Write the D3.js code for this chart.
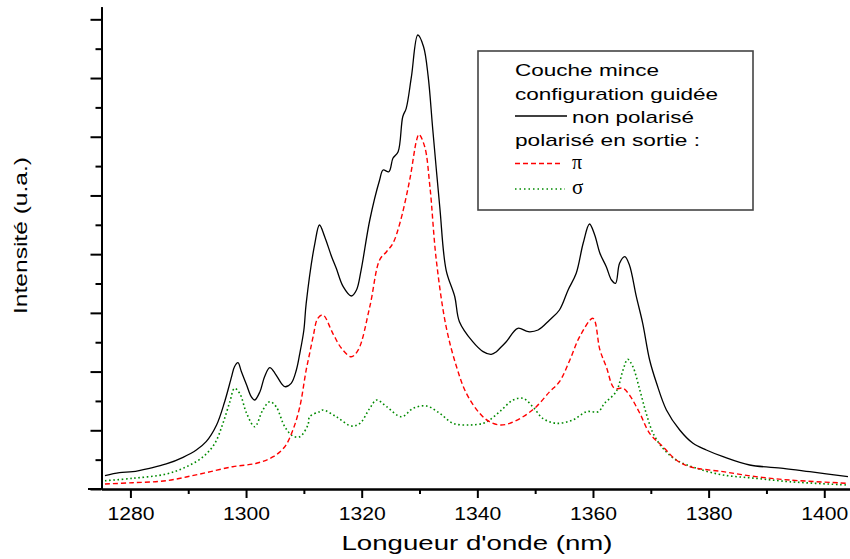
<!DOCTYPE html>
<html>
<head>
<meta charset="utf-8">
<script src="https://cdn.jsdelivr.net/npm/d3@7"></script>
<style>
  html, body { margin: 0; padding: 0; background: #fff; }
  svg { display: block; font-family: "Liberation Sans", Arial, sans-serif; }
</style>
</head>
<body>
<svg id="chart" width="850" height="559"></svg>
<script>
// ---- Data ----
const xTicks = [1280, 1300, 1320, 1340, 1360, 1380, 1400];
const xMinorTicks = [1290, 1310, 1330, 1350, 1370, 1390];

// non polarisé (solid black)
const blackNm = [1275.6, 1278.1, 1280.4, 1283.3, 1286.2, 1289.1, 1291.4, 1293.1, 1294.9, 1296.3, 1297.5, 1298.0, 1298.6, 1299.2, 1300.1, 1300.9, 1301.5, 1302.4, 1303.2, 1304.1, 1305.0, 1306.1, 1306.7, 1307.8, 1308.7, 1309.3, 1310.0, 1310.4, 1311.9, 1312.7, 1313.6, 1314.8, 1315.6, 1316.8, 1318.2, 1319.1, 1319.9, 1321.4, 1323.1, 1323.7, 1324.7, 1325.4, 1326.3, 1327.1, 1327.7, 1328.6, 1329.7, 1330.7, 1331.5, 1332.3, 1333.5, 1334.6, 1336.1, 1336.9, 1339.2, 1341.0, 1342.4, 1343.3, 1343.9, 1345.0, 1347.0, 1348.8, 1350.5, 1352.5, 1354.2, 1355.7, 1357.1, 1358.3, 1359.4, 1360.3, 1361.2, 1362.3, 1363.2, 1363.9, 1364.6, 1365.5, 1366.3, 1367.5, 1368.6, 1369.8, 1371.0, 1372.7, 1375.0, 1377.3, 1379.6, 1382.5, 1387.1, 1392.9, 1397.5, 1404.1];
const blackI = [0.227, 0.278, 0.295, 0.353, 0.426, 0.540, 0.664, 0.806, 1.090, 1.487, 1.913, 2.083, 2.151, 1.998, 1.771, 1.572, 1.516, 1.657, 1.913, 2.066, 1.971, 1.800, 1.742, 1.800, 2.027, 2.311, 2.708, 3.163, 4.185, 4.497, 4.297, 3.957, 3.759, 3.446, 3.287, 3.390, 3.730, 4.582, 5.263, 5.433, 5.404, 5.633, 5.745, 6.341, 6.484, 7.023, 7.733, 7.534, 7.023, 6.115, 4.808, 3.730, 3.275, 2.850, 2.509, 2.339, 2.294, 2.339, 2.397, 2.509, 2.737, 2.679, 2.708, 2.879, 3.049, 3.390, 3.674, 4.185, 4.514, 4.326, 4.015, 3.786, 3.560, 3.504, 3.844, 3.957, 3.815, 3.275, 2.822, 2.197, 1.800, 1.346, 1.005, 0.778, 0.664, 0.550, 0.409, 0.353, 0.295, 0.210];

// polarisé π (dashed red)
const redNm = [1275.6, 1280.4, 1286.2, 1292.0, 1297.7, 1301.8, 1304.7, 1306.7, 1308.1, 1309.3, 1310.4, 1311.0, 1311.6, 1312.4, 1313.3, 1315.0, 1316.5, 1318.2, 1319.4, 1321.4, 1323.1, 1324.3, 1325.4, 1326.6, 1328.3, 1329.5, 1329.9, 1330.9, 1331.8, 1332.9, 1334.6, 1336.4, 1338.1, 1340.4, 1342.1, 1343.9, 1345.6, 1347.9, 1350.2, 1352.5, 1354.2, 1356.0, 1357.7, 1360.0, 1361.2, 1362.3, 1363.7, 1365.2, 1366.3, 1368.1, 1369.8, 1372.1, 1374.4, 1376.7, 1382.5, 1388.2, 1394.0, 1404.1];
const redI = [0.085, 0.107, 0.141, 0.255, 0.380, 0.438, 0.550, 0.720, 1.005, 1.402, 2.027, 2.311, 2.594, 2.907, 2.964, 2.652, 2.397, 2.253, 2.368, 3.105, 3.901, 4.042, 4.185, 4.526, 5.263, 5.944, 6.042, 5.830, 5.149, 3.901, 2.764, 2.083, 1.630, 1.289, 1.146, 1.090, 1.119, 1.231, 1.402, 1.657, 1.828, 2.197, 2.594, 2.907, 2.368, 2.083, 1.715, 1.715, 1.601, 1.289, 0.949, 0.720, 0.494, 0.380, 0.295, 0.210, 0.153, 0.097];

// polarisé σ (dotted green)
const greenNm = [1275.6, 1280.4, 1286.2, 1289.7, 1292.6, 1294.6, 1296.0, 1297.2, 1298.0, 1298.9, 1300.1, 1301.5, 1302.9, 1304.1, 1305.2, 1306.7, 1308.1, 1309.3, 1310.7, 1311.0, 1312.7, 1313.3, 1315.6, 1318.2, 1319.7, 1321.4, 1322.6, 1324.3, 1326.9, 1328.9, 1331.2, 1333.5, 1335.8, 1338.7, 1341.0, 1342.1, 1343.9, 1346.2, 1347.9, 1349.6, 1351.3, 1353.7, 1356.5, 1358.9, 1360.9, 1362.0, 1364.0, 1365.2, 1366.0, 1366.9, 1368.1, 1369.2, 1370.4, 1372.1, 1374.4, 1377.9, 1382.5, 1388.2, 1394.0, 1404.1];
const greenI = [0.141, 0.182, 0.255, 0.380, 0.550, 0.778, 1.119, 1.487, 1.715, 1.630, 1.289, 1.061, 1.346, 1.487, 1.402, 1.061, 0.903, 0.891, 1.090, 1.231, 1.317, 1.346, 1.231, 1.073, 1.119, 1.375, 1.516, 1.402, 1.231, 1.375, 1.414, 1.289, 1.119, 1.090, 1.119, 1.175, 1.320, 1.516, 1.545, 1.402, 1.204, 1.119, 1.175, 1.317, 1.317, 1.460, 1.657, 2.027, 2.209, 2.083, 1.686, 1.289, 0.949, 0.693, 0.494, 0.353, 0.238, 0.182, 0.124, 0.068];

const yMajorTicks = [0, 1, 2, 3, 4, 5, 6, 7, 8];
const yMinorTicks = [0.5, 1.5, 2.5, 3.5, 4.5, 5.5, 6.5, 7.5];

const legendTitle = ["Couche mince", "configuration guidée"];
const legendItems = ["non polarisé", "polarisé en sortie :", "π", "σ"];

// ---- Layout ----
const svg = d3.select("#chart");
const x = d3.scaleLinear().domain([1275, 1404.45]).range([101.5, 850]);
const y = d3.scaleLinear().domain([0, 8.215]).range([489, 6.7]);

// curves
const line = d3.line().curve(d3.curveCatmullRom.alpha(0.5)).x(d => x(d[0])).y(d => y(d[1]));
const zip = (a, b) => a.map((v, i) => [v, b[i]]);

svg.append("path").datum(zip(greenNm, greenI))
  .attr("d", line).attr("fill", "none")
  .attr("stroke", "#008a00").attr("stroke-width", 1.6)
  .attr("stroke-dasharray", "1.6,2.6");
svg.append("path").datum(zip(redNm, redI))
  .attr("d", line).attr("fill", "none")
  .attr("stroke", "#ff0000").attr("stroke-width", 1.4)
  .attr("stroke-dasharray", "5,3");
svg.append("path").datum(zip(blackNm, blackI))
  .attr("d", line).attr("fill", "none")
  .attr("stroke", "#000").attr("stroke-width", 1.3);

// x axis
const gx = svg.append("g").attr("transform", `translate(0,489)`);
gx.call(d3.axisBottom(x).tickValues(xTicks).tickFormat(d3.format("d")).tickSize(9).tickSizeOuter(0));
gx.append("g").call(d3.axisBottom(x).tickValues(xMinorTicks).tickFormat("").tickSize(5).tickSizeOuter(0));
gx.selectAll(".domain").attr("stroke", "#000").attr("stroke-width", 2);
gx.selectAll(".tick line").attr("stroke", "#000").attr("stroke-width", 2);
gx.selectAll(".tick text")
  .attr("fill", "#000")
  .attr("font-size", 18)
  .attr("font-family", "Liberation Sans, Arial, sans-serif")
  .attr("y", 31).attr("dy", 0)
  .attr("textLength", 47).attr("lengthAdjust", "spacingAndGlyphs");
gx.append("line").attr("x1", 88).attr("x2", 101.5).attr("y1", 0).attr("y2", 0)
  .attr("stroke", "#000").attr("stroke-width", 2);

// y axis
const gy = svg.append("g").attr("transform", `translate(101.5,0)`);
gy.call(d3.axisLeft(y).tickValues(yMajorTicks).tickFormat("").tickSize(11).tickSizeOuter(0));
gy.append("g").call(d3.axisLeft(y).tickValues(yMinorTicks).tickFormat("").tickSize(6).tickSizeOuter(0));
gy.selectAll(".domain").attr("stroke", "#000").attr("stroke-width", 2);
gy.selectAll(".tick line").attr("stroke", "#000").attr("stroke-width", 2);

// axis titles
svg.append("text")
  .attr("x", 477).attr("y", 550)
  .attr("text-anchor", "middle").attr("font-size", 21).attr("fill", "#000")
  .attr("textLength", 271).attr("lengthAdjust", "spacingAndGlyphs")
  .text("Longueur d'onde (nm)");
svg.append("text")
  .attr("transform", "translate(27,235.5) rotate(-90)")
  .attr("text-anchor", "middle").attr("font-size", 19).attr("fill", "#000")
  .attr("textLength", 157).attr("lengthAdjust", "spacingAndGlyphs")
  .text("Intensité (u.a.)");

// legend
const lg = svg.append("g");
lg.append("rect").attr("x", 478).attr("y", 51).attr("width", 275).attr("height", 159)
  .attr("fill", "#fff").attr("stroke", "#444").attr("stroke-width", 1.6);
const lTxt = (s, tx, ty, len, fs) => {
  const t = lg.append("text").attr("x", tx).attr("y", ty)
    .attr("font-size", fs).attr("fill", "#000").text(s);
  if (len) t.attr("textLength", len).attr("lengthAdjust", "spacingAndGlyphs");
  return t;
};
lTxt(legendTitle[0], 515, 76, 144, 17);
lTxt(legendTitle[1], 515, 100, 203, 17);
lTxt(legendItems[0], 572, 123, 122, 17);
lTxt(legendItems[1], 515, 146, 185, 17);
lTxt(legendItems[2], 572, 169, null, 20).attr("font-family", "Liberation Serif, DejaVu Serif, serif");
lTxt(legendItems[3], 572, 194, null, 21).attr("font-family", "Liberation Serif, DejaVu Serif, serif");
lg.append("line").attr("x1", 515).attr("x2", 567).attr("y1", 116).attr("y2", 116)
  .attr("stroke", "#000").attr("stroke-width", 1.3);
lg.append("line").attr("x1", 515).attr("x2", 563).attr("y1", 163.5).attr("y2", 163.5)
  .attr("stroke", "#ff0000").attr("stroke-width", 1.3).attr("stroke-dasharray", "5,3");
lg.append("line").attr("x1", 515).attr("x2", 565).attr("y1", 189).attr("y2", 189)
  .attr("stroke", "#008a00").attr("stroke-width", 1.5).attr("stroke-dasharray", "1.5,3");
</script>
</body>
</html>
